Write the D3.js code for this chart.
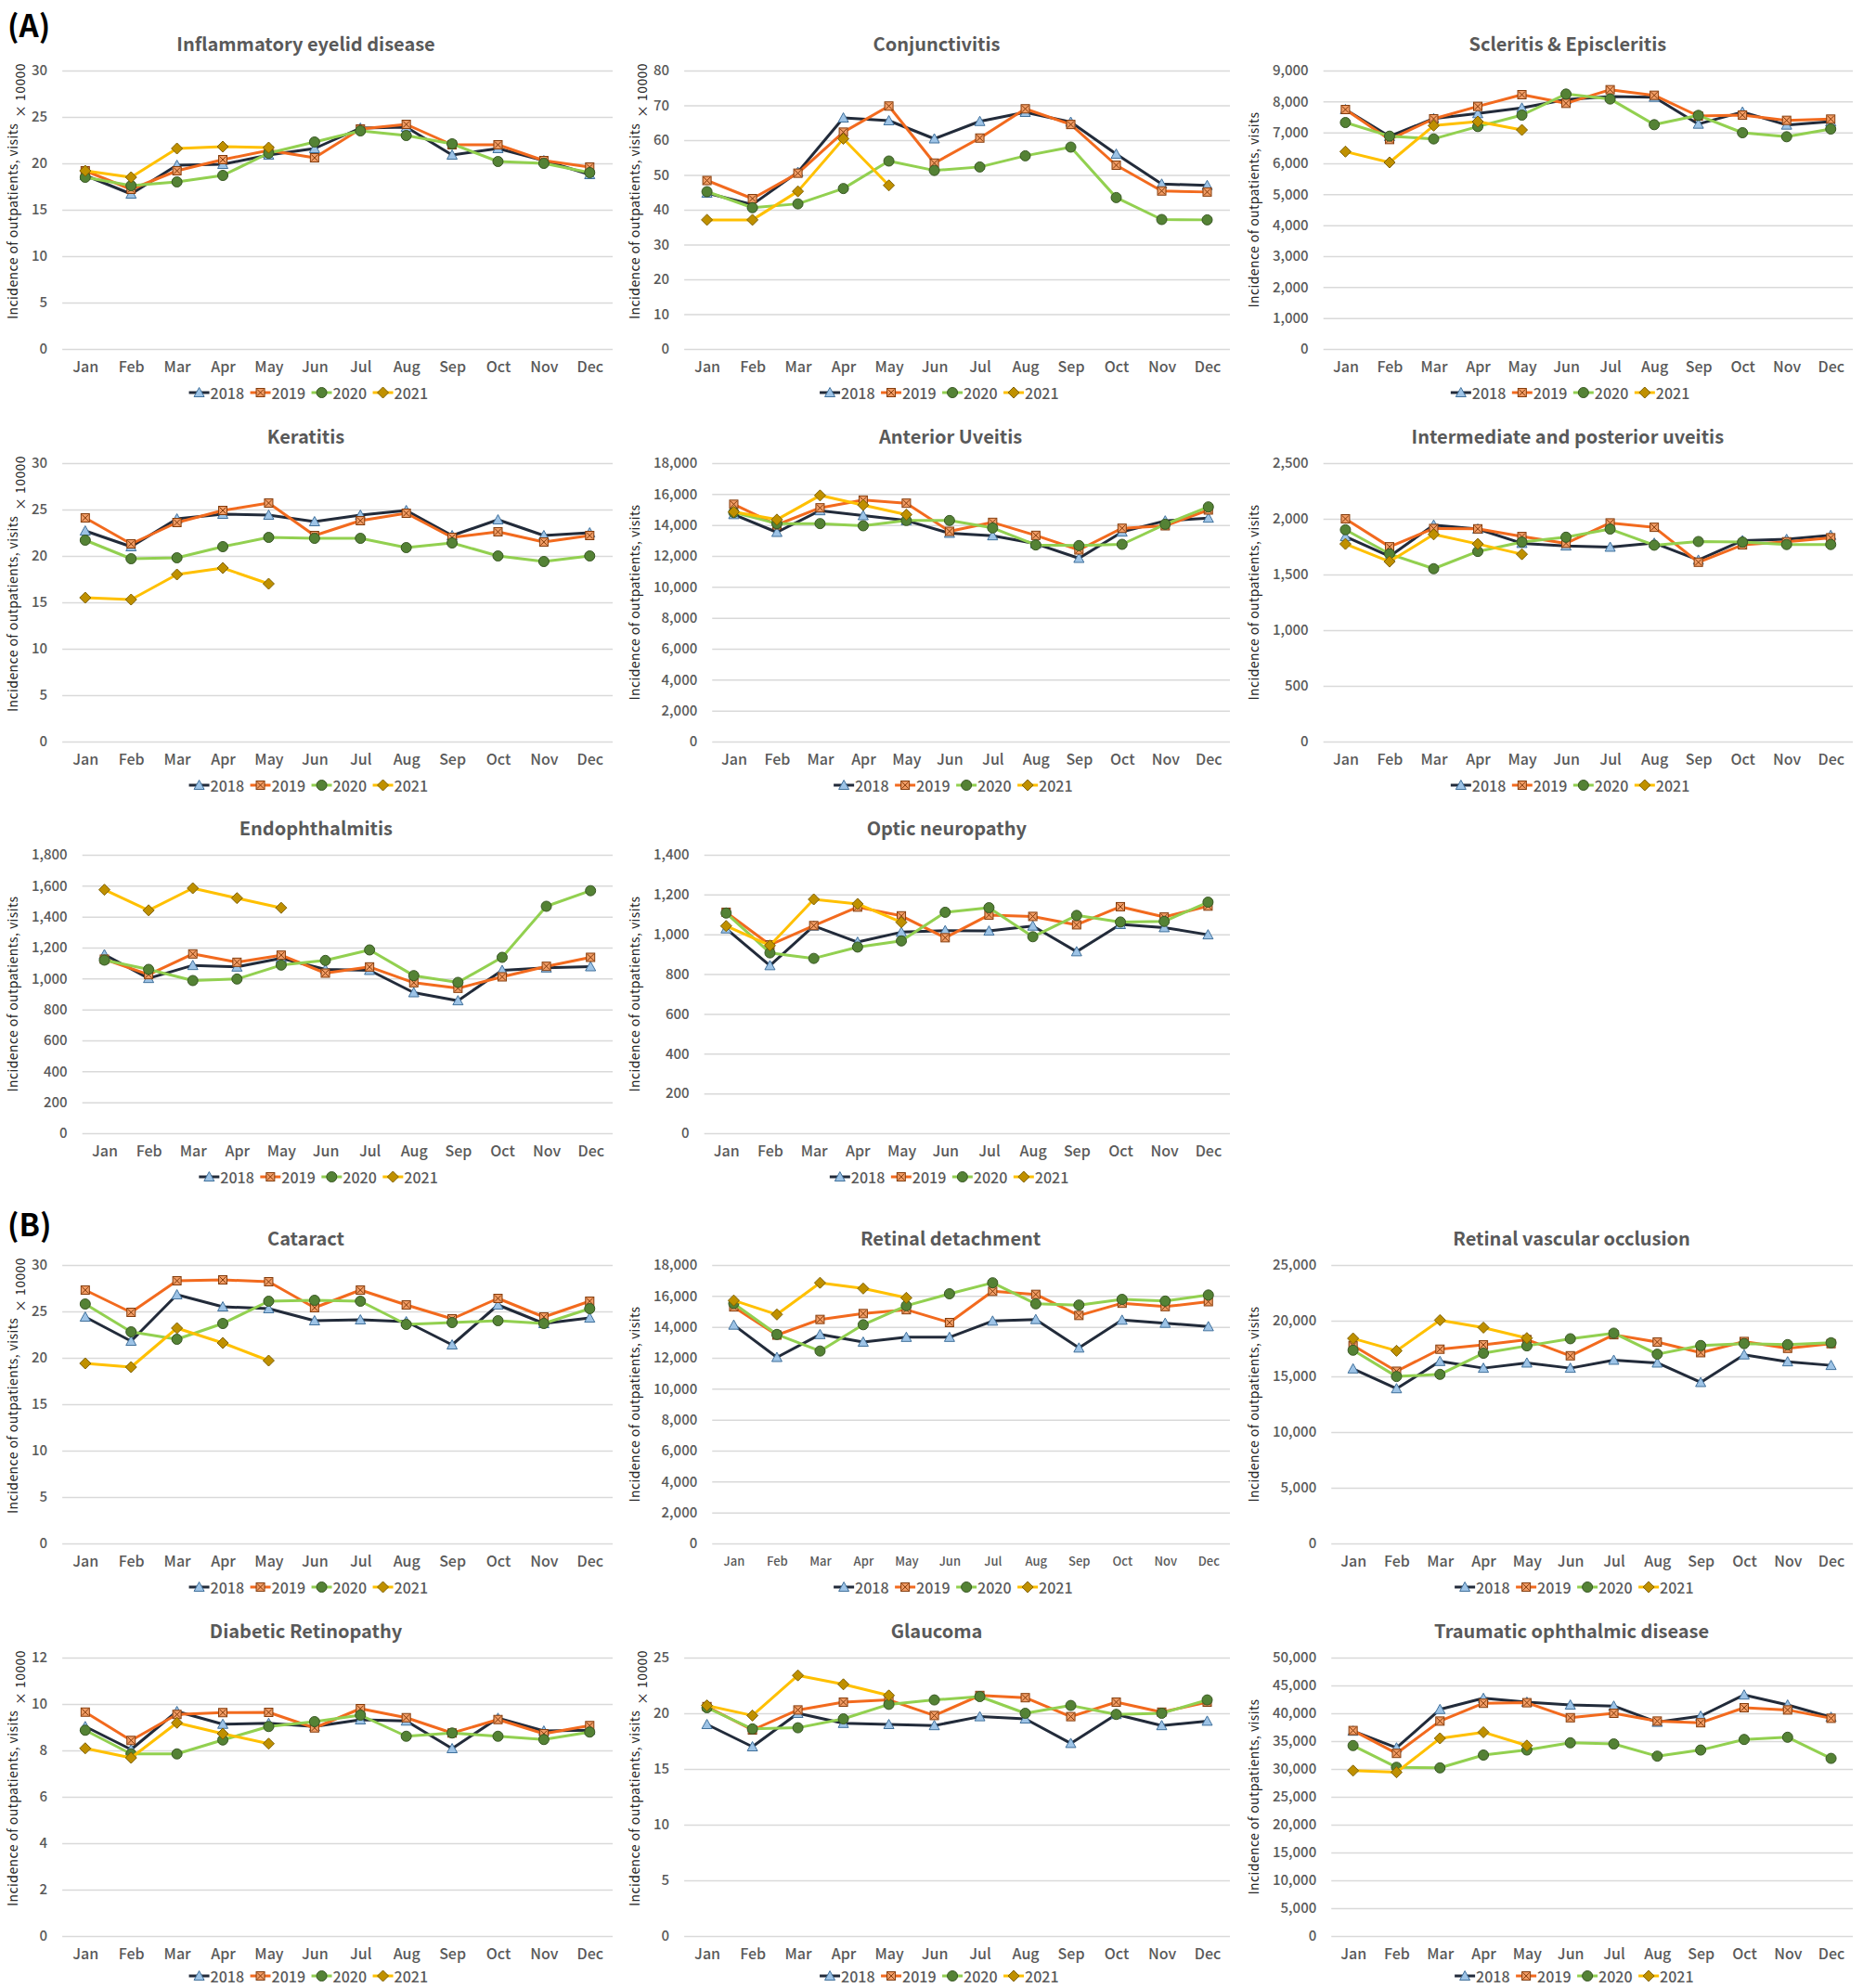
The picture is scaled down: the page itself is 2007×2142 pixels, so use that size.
<!DOCTYPE html>
<html>
<head>
<meta charset="utf-8">
<script src="https://cdn.jsdelivr.net/npm/d3@7"></script>
<style>
  body { margin: 0; background: #fff; }
  svg { display: block; }
</style>
</head>
<body>
<div id="chart"></div>
<script>
// Categories and series
const months = ["Jan", "Feb", "Mar", "Apr", "May", "Jun", "Jul", "Aug", "Sep", "Oct", "Nov", "Dec"];
const years = ["2018", "2019", "2020", "2021"];

// One array per disease: [2018, 2019, 2020, 2021]
const eyelid = [
  [18.7, 16.7, 19.8, 19.9, 20.9, 21.6, 23.8, 23.9, 20.9, 21.6, 20.3, 18.8],
  [19.2, 17.2, 19.2, 20.4, 21.4, 20.6, 23.7, 24.2, 22.0, 22.0, 20.3, 19.6],
  [18.5, 17.6, 18.0, 18.7, 21.1, 22.3, 23.5, 23.0, 22.1, 20.2, 20.0, 19.0],
  [19.2, 18.5, 21.6, 21.8, 21.7]
];
const conjunctivitis = [
  [44.8, 41.5, 50.8, 66.4, 65.6, 60.4, 65.4, 68.0, 65.2, 56.0, 47.4, 47.0],
  [48.4, 43.2, 50.5, 62.3, 69.8, 53.4, 60.6, 69.0, 64.5, 52.8, 45.4, 45.1],
  [45.2, 40.6, 41.7, 46.1, 54.0, 51.3, 52.3, 55.5, 58.0, 43.5, 37.2, 37.1],
  [37.1, 37.1, 45.3, 60.4, 47.0]
];
const scleritis = [
  [7740, 6870, 7450, 7610, 7790, 8060, 8160, 8140, 7270, 7660, 7240, 7350],
  [7740, 6770, 7440, 7840, 8220, 7940, 8380, 8200, 7530, 7560, 7390, 7430],
  [7320, 6880, 6790, 7190, 7560, 8240, 8080, 7250, 7550, 6990, 6860, 7110],
  [6380, 6030, 7220, 7350, 7080]
];
const keratitis = [
  [22.7, 21.0, 24.0, 24.5, 24.4, 23.7, 24.4, 24.9, 22.2, 23.9, 22.2, 22.5],
  [24.1, 21.3, 23.6, 24.9, 25.7, 22.2, 23.8, 24.6, 22.0, 22.6, 21.5, 22.2],
  [21.7, 19.7, 19.8, 21.0, 22.0, 21.9, 21.9, 20.9, 21.4, 20.0, 19.4, 20.0],
  [15.5, 15.3, 18.0, 18.7, 17.0]
];
const anteriorUveitis = [
  [14680, 13530, 14930, 14610, 14290, 13470, 13310, 12790, 11850, 13550, 14270, 14450],
  [15340, 14010, 15110, 15610, 15410, 13590, 14170, 13330, 12390, 13790, 13950, 14970],
  [14810, 14090, 14090, 13950, 14290, 14290, 13810, 12710, 12670, 12750, 14050, 15170],
  [14850, 14350, 15910, 15290, 14670]
];
const posteriorUveitis = [
  [1841, 1663, 1944, 1908, 1780, 1757, 1746, 1782, 1630, 1805, 1816, 1852],
  [2000, 1749, 1913, 1910, 1841, 1780, 1963, 1924, 1610, 1766, 1794, 1830],
  [1902, 1685, 1552, 1707, 1791, 1835, 1908, 1763, 1796, 1791, 1769, 1769],
  [1774, 1616, 1860, 1774, 1682]
];
const endophthalmitis = [
  [1155, 1001, 1085, 1075, 1131, 1059, 1053, 909, 857, 1053, 1069, 1077],
  [1125, 1025, 1159, 1105, 1151, 1035, 1075, 973, 937, 1011, 1079, 1137],
  [1119, 1059, 987, 997, 1087, 1117, 1185, 1019, 975, 1137, 1467, 1568],
  [1574, 1441, 1584, 1520, 1457]
];
const opticNeuropathy = [
  [1028, 843, 1042, 961, 1011, 1019, 1017, 1042, 913, 1050, 1034, 998],
  [1111, 947, 1044, 1137, 1093, 983, 1097, 1090, 1048, 1139, 1087, 1142],
  [1107, 907, 879, 936, 967, 1111, 1134, 988, 1095, 1062, 1065, 1162],
  [1042, 944, 1176, 1153, 1061]
];
const cataract = [
  [24.4, 21.8, 26.8, 25.5, 25.3, 24.0, 24.1, 23.9, 21.4, 25.7, 23.7, 24.3],
  [27.3, 24.9, 28.3, 28.4, 28.2, 25.4, 27.3, 25.7, 24.2, 26.4, 24.4, 26.1],
  [25.8, 22.8, 22.0, 23.7, 26.1, 26.2, 26.1, 23.6, 23.8, 24.0, 23.7, 25.3],
  [19.4, 19.0, 23.2, 21.6, 19.7]
];
const retinalDetachment = [
  [14120, 12030, 13510, 13020, 13330, 13330, 14380, 14480, 12640, 14440, 14240, 14020],
  [15290, 13470, 14480, 14860, 15110, 14280, 16300, 16100, 14740, 15530, 15310, 15630],
  [15510, 13510, 12440, 14140, 15370, 16140, 16850, 15490, 15410, 15780, 15670, 16060],
  [15710, 14800, 16850, 16480, 15880]
];
const vascularOcclusion = [
  [15680, 13900, 16350, 15740, 16210, 15740, 16460, 16210, 14460, 16940, 16320, 15990],
  [17770, 15460, 17440, 17830, 18300, 16850, 18740, 18080, 17130, 18130, 17520, 17940],
  [17350, 14990, 15180, 17080, 17740, 18380, 18880, 16990, 17770, 17940, 17850, 18020],
  [18410, 17300, 20050, 19380, 18440]
];
const diabeticRetinopathy = [
  [9.03, 8.04, 9.68, 9.13, 9.17, 9.03, 9.32, 9.27, 8.08, 9.39, 8.84, 8.87],
  [9.65, 8.43, 9.55, 9.63, 9.64, 8.97, 9.80, 9.41, 8.75, 9.33, 8.72, 9.07],
  [8.87, 7.85, 7.85, 8.45, 9.03, 9.24, 9.52, 8.61, 8.75, 8.61, 8.47, 8.79],
  [8.09, 7.68, 9.19, 8.72, 8.29]
];
const glaucoma = [
  [19.0, 17.0, 20.0, 19.1, 19.0, 18.9, 19.7, 19.5, 17.3, 19.9, 18.9, 19.3],
  [20.6, 18.5, 20.3, 21.0, 21.2, 19.8, 21.6, 21.4, 19.7, 21.0, 20.1, 21.0],
  [20.5, 18.6, 18.7, 19.5, 20.8, 21.2, 21.5, 20.0, 20.7, 19.9, 20.0, 21.2],
  [20.7, 19.8, 23.4, 22.6, 21.6]
];
const traumatic = [
  [36800, 33800, 40700, 42700, 42000, 41500, 41300, 38400, 39500, 43300, 41500, 39300],
  [36900, 32800, 38600, 41800, 41900, 39200, 40000, 38600, 38300, 41000, 40600, 39100],
  [34200, 30300, 30200, 32500, 33400, 34700, 34500, 32300, 33400, 35300, 35700, 31900],
  [29700, 29400, 35500, 36600, 34200]
];

// Panel descriptions
const titles = ["Inflammatory eyelid disease", "Conjunctivitis", "Scleritis & Episcleritis",
  "Keratitis", "Anterior Uveitis", "Intermediate and posterior uveitis",
  "Endophthalmitis", "Optic neuropathy",
  "Cataract", "Retinal detachment", "Retinal vascular occlusion",
  "Diabetic Retinopathy", "Glaucoma", "Traumatic ophthalmic disease"];
const seriesData = [eyelid, conjunctivitis, scleritis, keratitis, anteriorUveitis, posteriorUveitis,
  endophthalmitis, opticNeuropathy, cataract, retinalDetachment, vascularOcclusion,
  diabeticRetinopathy, glaucoma, traumatic];
const yMax = [30, 80, 9000, 30, 18000, 2500, 1800, 1400, 30, 18000, 25000, 12, 25, 50000];
const yStep = [5, 10, 1000, 5, 2000, 500, 200, 200, 5, 2000, 5000, 2, 5, 5000];
const per10000 = [true, true, false, true, false, false, false, false, true, false, false, true, true, false];
const groupLabels = ["(A)", "(B)"];

// Layout
const W = 2007, H = 2142;
const cells = [[0,0],[1,0],[2,0],[0,1],[1,1],[2,1],[0,2],[1,2],[0,3],[1,3],[2,3],[0,4],[1,4],[2,4]];
const colX = [0, 670, 1337];
const colRight = [660, 1325, 1996];
const colShift = [-34, -22, -22];
const rowTop = [76, 499, 921, 1363, 1786];
const plotH = 300;

const font = "'Noto Sans CJK KR', 'Noto Sans', sans-serif";
const textGray = "#595959";
const lineColor = ["#222b3a", "#f26a1e", "#92d050", "#ffc000"];
const markFill = ["#9dc3e6", "#f19c65", "#548235", "#bf9000"];
const markStroke = ["#41719c", "#843c0c", "#385723", "#7f6000"];

const svg = d3.select("#chart").append("svg")
  .attr("width", W)
  .attr("height", H)
  .style("background", "#fff");

// Measure text widths for the y tick labels
const probe = svg.append("text").attr("font-family", font).attr("font-size", "15px").attr("font-weight", 500);
function measure(str) {
  probe.text(str);
  return probe.node().getComputedTextLength();
}

// Marker drawing per series
function drawMarker(sel, k) {
  if (k === 0) {
    sel.append("path").attr("d", "M0,-5.5L5.5,4.5L-5.5,4.5Z");
  } else if (k === 1) {
    sel.append("rect").attr("x", -4.5).attr("y", -4.5).attr("width", 9).attr("height", 9);
    sel.append("path").attr("d", "M-3.5,-3.5L3.5,3.5M3.5,-3.5L-3.5,3.5").attr("fill", "none");
  } else if (k === 2) {
    sel.append("circle").attr("r", 5.5);
  } else {
    sel.append("path").attr("d", "M0,-6L6,0L0,6L-6,0Z");
  }
  sel.selectAll("*")
    .attr("stroke", markStroke[k])
    .attr("stroke-width", 1);
  sel.selectAll("rect, circle, path:not([fill='none'])").attr("fill", markFill[k]);
}

const fmt = d3.format(",");

seriesData.forEach(function(data, i) {
  const col = cells[i][0], row = cells[i][1];
  const x0 = colX[col];
  const top = rowTop[row];
  const bottom = top + plotH;
  const ticks = d3.range(0, yMax[i] + yStep[i] / 2, yStep[i]);
  const labelW = d3.max(ticks, t => measure(fmt(t)));
  const left = x0 + 32 + labelW + 18;
  const right = colRight[col];
  const cx = (left + right) / 2 + colShift[col];
  const small = titles[i] === "Retinal detachment";

  const x = d3.scalePoint().domain(months).range([left, right]).padding(0.5);
  const y = d3.scaleLinear().domain([0, yMax[i]]).range([bottom, top]);

  const g = svg.append("g");

  // Gridlines + y tick labels
  const ya = g.append("g")
    .attr("transform", "translate(" + left + ",0)")
    .call(d3.axisLeft(y).tickValues(ticks).tickFormat(fmt).tickSize(-(right - left)).tickPadding(16));
  ya.select(".domain").remove();
  ya.selectAll(".tick line").attr("stroke", "#d9d9d9").attr("stroke-width", 1.5);
  ya.selectAll(".tick text")
    .attr("font-family", font)
    .attr("font-size", "15px")
    .attr("font-weight", 500)
    .attr("fill", textGray);

  // Month labels
  const xa = g.append("g")
    .attr("transform", "translate(0," + bottom + ")")
    .call(d3.axisBottom(x).tickSize(0).tickPadding(small ? 15 : 14));
  xa.select(".domain").remove();
  xa.selectAll(".tick text")
    .attr("font-family", font)
    .attr("font-size", small ? "13px" : "16px")
    .attr("font-weight", 500)
    .attr("fill", textGray);

  // Lines and markers
  const line = d3.line()
    .x((d, j) => x(months[j]))
    .y(d => y(d));

  data.forEach(function(vals, k) {
    g.append("path")
      .datum(vals)
      .attr("d", line)
      .attr("fill", "none")
      .attr("stroke", lineColor[k])
      .attr("stroke-width", 3)
      .attr("stroke-linejoin", "round");

    g.append("g").selectAll("g")
      .data(vals)
      .join("g")
      .attr("transform", (d, j) => "translate(" + x(months[j]) + "," + y(d) + ")")
      .each(function() { drawMarker(d3.select(this), k); });
  });

  // Title
  g.append("text")
    .attr("x", cx)
    .attr("y", top - 30)
    .attr("text-anchor", "middle")
    .attr("dominant-baseline", "central")
    .attr("font-family", font)
    .attr("font-size", "20px")
    .attr("font-weight", "bold")
    .attr("fill", textGray)
    .text(titles[i]);

  // Y axis title
  const yt = g.append("text")
    .attr("transform", "translate(" + (x0 + 13) + "," + ((top + bottom) / 2 - (per10000[i] ? 20 : 0)) + ") rotate(-90)")
    .attr("text-anchor", "middle")
    .attr("dominant-baseline", "central")
    .attr("font-family", font)
    .attr("font-size", "14px")
    .attr("letter-spacing", "0.4px")
    .attr("fill", "#262626")
    .text("Incidence of outpatients, visits");
  if (per10000[i]) {
    yt.append("tspan").attr("dx", 6).attr("dy", 8).text("\u00d7 10000");
  }

  // Legend (kept inside the picture on the last row)
  const legendY = Math.min(top + 347, H - 13);
  const lg = g.append("g")
    .attr("transform", "translate(" + (cx - 126) + "," + legendY + ")");
  years.forEach(function(yr, k) {
    const item = lg.append("g").attr("transform", "translate(" + (k * 66) + ",0)");
    item.append("line")
      .attr("x1", 0).attr("x2", 22)
      .attr("stroke", lineColor[k])
      .attr("stroke-width", 3);
    const m = item.append("g").attr("transform", "translate(11,0)");
    drawMarker(m, k);
    item.append("text")
      .attr("x", 23)
      .attr("dominant-baseline", "central")
      .attr("font-family", font)
      .attr("font-size", "16px")
      .attr("font-weight", 500)
      .attr("fill", textGray)
      .text(yr);
  });
});

probe.remove();

// Group labels
svg.append("text")
  .attr("x", 8).attr("y", 26)
  .attr("dominant-baseline", "central")
  .attr("font-family", font)
  .attr("font-size", "33px")
  .attr("font-weight", "bold")
  .attr("fill", "#000")
  .text(groupLabels[0]);
svg.append("text")
  .attr("x", 8).attr("y", 1318)
  .attr("dominant-baseline", "central")
  .attr("font-family", font)
  .attr("font-size", "33px")
  .attr("font-weight", "bold")
  .attr("fill", "#000")
  .text(groupLabels[1]);
</script>
</body>
</html>
